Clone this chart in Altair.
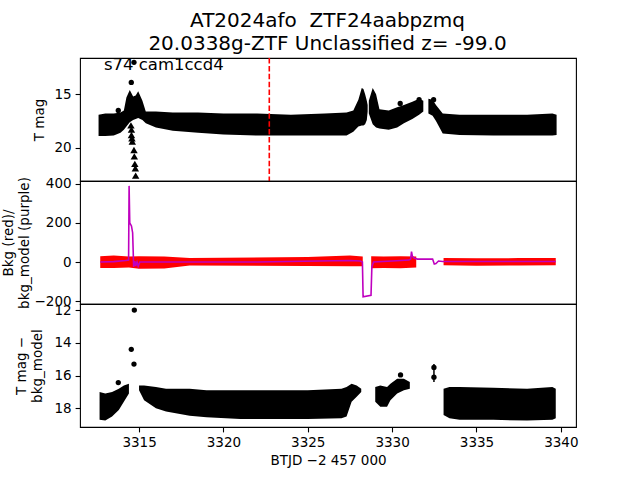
import altair as alt
import pandas as pd

# ---------------- data ----------------
X_DOMAIN = [3311.5, 3340.9]
x_ticks = [3315, 3320, 3325, 3330, 3335, 3340]

# Top panel: T mag band envelopes (bright edge / faint edge), per segment
top_seg = [1]*27 + [2]*10 + [3]*9
top_x = [3312.6, 3313.0, 3313.5, 3313.9, 3314.1, 3314.25, 3314.45, 3314.65, 3314.8, 3314.95,
         3315.2, 3315.4, 3316.0, 3317.0, 3318.5, 3320.0, 3322.0, 3324.0, 3326.0, 3327.3,
         3327.7, 3328.0, 3328.2, 3328.3, 3328.4, 3328.5, 3328.55,
         3328.62, 3328.85, 3329.05, 3329.25, 3329.8, 3330.3, 3330.7, 3331.2, 3331.6, 3331.85,
         3332.15, 3332.4, 3332.6, 3333.0, 3334.0, 3336.0, 3338.0, 3339.5, 3339.75]
top_hi = [16.9, 16.8, 16.8, 16.7, 16.5, 15.3, 14.6, 15.2, 15.1, 14.7,
          15.6, 16.6, 16.6, 16.7, 16.7, 16.8, 16.8, 16.9, 16.8, 16.7,
          16.5, 15.5, 14.4, 14.5, 15.0, 15.6, 16.0,
          15.6, 14.4, 15.0, 16.4, 16.5, 16.2, 16.0, 15.7, 15.4, 15.6,
          15.4, 15.5, 16.0, 16.8, 16.9, 16.9, 16.9, 16.8, 16.9]
top_lo = [18.9, 18.9, 18.85, 18.6, 18.3, 18.0, 17.6, 17.4, 17.3, 17.2,
          17.4, 17.7, 18.1, 18.4, 18.6, 18.75, 18.85, 18.85, 18.85, 18.85,
          18.5, 18.0, 17.9, 17.9, 17.8, 17.4, 16.6,
          16.8, 17.8, 18.1, 18.2, 18.3, 18.1, 17.7, 17.3, 16.9, 16.6,
          16.8, 17.0, 17.5, 18.65, 18.8, 18.85, 18.85, 18.85, 18.8]

top_dot_x = [3313.77, 3314.54, 3314.7, 3330.48, 3331.6, 3332.46]
top_dot_y = [16.5, 13.88, 12.0, 15.85, 15.5, 15.5]

tri_x = [3314.52, 3314.55, 3314.55, 3314.58, 3314.6, 3314.7, 3314.72, 3314.75, 3314.78, 3314.8]
tri_y = [17.9, 18.3, 18.8, 19.1, 19.4, 20.2, 20.8, 21.5, 21.9, 22.6]

mark_date = [3322.72]

# Middle panel: Bkg (red) band and bkg_model (purple) line
bkg_seg = [1]*9 + [2]*4 + [3]*4
bkg_x = [3312.7, 3313.5, 3314.4, 3315.0, 3316.5, 3318.0, 3325.0, 3327.5, 3328.26,
         3328.76, 3329.5, 3330.5, 3331.43,
         3333.05, 3335.0, 3337.5, 3339.7]
bkg_hi = [30, 34, 28, 30, 28, 20, 26, 34, 28,
          29, 28, 29, 28,
          20, 19, 20, 20]
bkg_lo = [-30, -30, -28, -35, -33, -18, -20, -22, -22,
          -32, -30, -32, -28,
          -17, -19, -18, -17]

model_x = [3312.7, 3313.5, 3314.2, 3314.38, 3314.41, 3314.45, 3314.55, 3314.62, 3314.68,
           3314.75, 3314.8, 3314.88, 3314.95, 3315.05, 3316.0, 3322.0, 3327.5, 3328.1,
           3328.24, 3328.28, 3328.75, 3328.8, 3328.9, 3330.0, 3331.0, 3331.1, 3331.15,
           3331.2, 3331.3, 3331.5, 3332.4, 3332.5, 3332.6, 3332.75, 3333.0, 3339.7]
model_y = [0, 2, 8, 10, 390, 200, 185, 150, -25,
           5, -20, 0, -22, 0, 0, 0, 8, 5,
           0, -178, -170, -25, 0, 5, 10, 15, 53,
           30, 20, 15, 15, -10, -8, 5, 3, 3]

# Bottom panel: T mag - bkg_model band envelopes
bot_seg = [1]*6 + [2]*14 + [3]*7 + [4]*7
bot_x = [3312.66, 3313.0, 3313.4, 3313.8, 3314.1, 3314.4,
         3315.0, 3315.3, 3316.0, 3316.6, 3318.0, 3319.0, 3321.0, 3323.0, 3325.0, 3327.0,
         3327.3, 3327.6, 3327.9, 3328.17,
         3329.0, 3329.3, 3329.7, 3329.9, 3330.3, 3330.7, 3331.05,
         3333.05, 3333.4, 3334.0, 3336.0, 3338.0, 3339.5, 3339.7]
bot_hi = [17.0, 17.1, 17.0, 16.8, 16.6, 16.5,
          16.6, 16.6, 16.7, 16.8, 16.8, 16.9, 16.9, 16.9, 16.9, 16.8,
          16.7, 16.5, 16.6, 16.8,
          16.7, 16.6, 16.7, 16.5, 16.2, 16.2, 16.4,
          16.8, 16.7, 16.7, 16.75, 16.8, 16.7, 16.8]
bot_lo = [18.7, 18.75, 18.5, 18.1, 17.6, 17.1,
          16.9, 17.5, 18.0, 18.2, 18.45, 18.55, 18.65, 18.65, 18.65, 18.6,
          18.5, 17.6, 17.3, 17.0,
          17.6, 17.9, 17.9, 17.5, 17.1, 16.9, 16.8,
          18.4, 18.6, 18.7, 18.7, 18.75, 18.7, 18.6]

bot_dot_x = [3313.77, 3314.54, 3314.7, 3314.72, 3330.5, 3332.48, 3332.48]
bot_dot_y = [16.43, 14.4, 15.3, 12.0, 15.96, 15.5, 16.1]
err_x = [3332.48]
err_lo = [15.3]
err_hi = [16.4]

# ---------------- frames ----------------
top_df = pd.DataFrame({"seg": top_seg, "x": top_x, "hi": top_hi, "lo": top_lo})
top_dots = pd.DataFrame({"x": top_dot_x, "y": top_dot_y})
tri_df = pd.DataFrame({"x": tri_x, "y": tri_y})
mark_df = pd.DataFrame({"x": mark_date})
bkg_df = pd.DataFrame({"seg": bkg_seg, "x": bkg_x, "hi": bkg_hi, "lo": bkg_lo})
model_df = pd.DataFrame({"x": model_x, "y": model_y})
bot_df = pd.DataFrame({"seg": bot_seg, "x": bot_x, "hi": bot_hi, "lo": bot_lo})
bot_dots = pd.DataFrame({"x": bot_dot_x, "y": bot_dot_y})
err_df = pd.DataFrame({"x": err_x, "lo": err_lo, "hi": err_hi})

FONT = "DejaVu Sans"
W, H = 496, 123

xs = alt.Scale(domain=X_DOMAIN, nice=False, zero=False)
x_none = alt.X("x:Q", scale=xs, axis=None)

# ---------------- top panel ----------------
ys_top = alt.Scale(domain=[11.6, 23.1], nice=False, zero=False, reverse=True)
y_top_axis = alt.Axis(values=[15, 20], title="T mag", titleX=-48)

top_band = alt.Chart(top_df).mark_area(color="black", opacity=1, clip=True).encode(
    x=x_none,
    y=alt.Y("hi:Q", scale=ys_top, axis=y_top_axis),
    y2="lo:Q",
    detail="seg:N",
)
top_pts = alt.Chart(top_dots).mark_circle(color="black", size=28, opacity=1).encode(
    x=x_none, y=alt.Y("y:Q", scale=ys_top))
top_tri = alt.Chart(tri_df).mark_point(shape="triangle-up", filled=True, color="black",
                                       size=55, opacity=1, clip=True).encode(
    x=x_none, y=alt.Y("y:Q", scale=ys_top))
top_rule = alt.Chart(mark_df).mark_rule(color="red", strokeWidth=1.6,
                                        strokeDash=[5.5, 2.4]).encode(x=x_none)
top_text = alt.Chart(mark_df).mark_text(text="s74 cam1ccd4", align="left", baseline="middle",
                                        font=FONT, fontSize=16.5, color="black").encode(
    x=alt.datum(3312.92, scale=xs), y=alt.datum(12.3, scale=ys_top))

top = alt.layer(top_band, top_pts, top_tri, top_rule, top_text).properties(width=W, height=H)

# ---------------- middle panel ----------------
ys_mid = alt.Scale(domain=[-215, 415], nice=False, zero=False)
y_mid_axis = alt.Axis(values=[-200, 0, 200, 400], title=["Bkg (red)/", "bkg_model (purple)"],
                      titleX=-79)
mid_band = alt.Chart(bkg_df).mark_area(color="#ff0000", opacity=1).encode(
    x=x_none,
    y=alt.Y("hi:Q", scale=ys_mid, axis=y_mid_axis),
    y2="lo:Q",
    detail="seg:N",
)
mid_line = alt.Chart(model_df).mark_line(color="#bf00bf", strokeWidth=1.6).encode(
    x=x_none, y=alt.Y("y:Q", scale=ys_mid))
mid = alt.layer(mid_band, mid_line).properties(width=W, height=H)

# ---------------- bottom panel ----------------
ys_bot = alt.Scale(domain=[11.63, 19.14], nice=False, zero=False, reverse=True)
y_bot_axis = alt.Axis(values=[12, 14, 16, 18], title=["T mag \u2212", "bkg_model"], titleX=-66)
x_bot = alt.X("x:Q", scale=xs,
              axis=alt.Axis(values=x_ticks, title="BTJD \u22122 457 000", format="d",
                            labelPadding=4, titlePadding=4))
bot_band = alt.Chart(bot_df).mark_area(color="black", opacity=1).encode(
    x=x_bot,
    y=alt.Y("hi:Q", scale=ys_bot, axis=y_bot_axis),
    y2="lo:Q",
    detail="seg:N",
)
bot_pts = alt.Chart(bot_dots).mark_circle(color="black", size=28, opacity=1).encode(
    x=alt.X("x:Q", scale=xs), y=alt.Y("y:Q", scale=ys_bot))
bot_err = alt.Chart(err_df).mark_rule(color="black", strokeWidth=1.5).encode(
    x=alt.X("x:Q", scale=xs), y=alt.Y("lo:Q", scale=ys_bot), y2="hi:Q")
bot = alt.layer(bot_band, bot_err, bot_pts).properties(width=W, height=H)

chart = alt.vconcat(top, mid, bot, spacing=0, bounds="flush").properties(
    title=alt.TitleParams(
        text=["AT2024afo\u00a0\u00a0ZTF24aabpzmq", "20.0338g-ZTF Unclassified z= -99.0"],
        font=FONT, fontSize=20, fontWeight="normal", color="black",
        anchor="middle", lineHeight=23, offset=3, dx=38,
    ),
    padding={"left": 0, "top": 10, "right": 0, "bottom": 0},
).configure_view(
    stroke="black", strokeWidth=1.1
).configure_axis(
    labelFont=FONT, labelFontSize=13.5, labelColor="black",
    titleFont=FONT, titleFontSize=13.5, titleFontWeight="normal", titleColor="black",
    titleLineHeight=16.7, titleBaseline="top",
    tickColor="black", tickSize=4.9, tickWidth=1.1,
    domain=False, grid=False, labelPadding=4,
)

chart.save("out.html", embed_options={"renderer": "svg", "actions": False})
